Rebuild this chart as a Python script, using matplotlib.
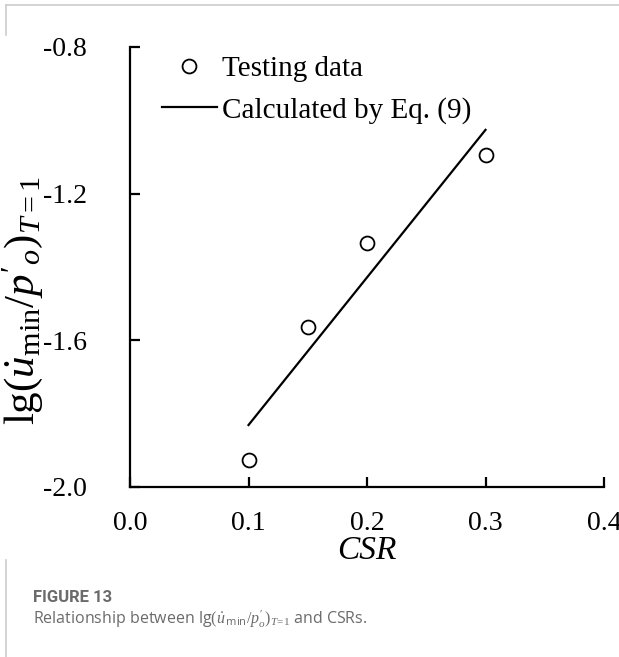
import matplotlib
matplotlib.use("Agg")
import matplotlib.pyplot as plt
from matplotlib.lines import Line2D

plt.rcParams["mathtext.fontset"] = "custom"
plt.rcParams["mathtext.rm"] = "Liberation Serif"
plt.rcParams["mathtext.it"] = "Liberation Serif:italic"
plt.rcParams["mathtext.sf"] = "Open Sans"
plt.rcParams["font.family"] = "Liberation Serif"

# Testing data
csr = [0.10, 0.15, 0.20, 0.30]
lg_rate = [-1.925, -1.563, -1.335, -1.095]

# Eq. (9) line endpoints
csr_fit = [0.10, 0.30]
lg_fit = [-1.831, -1.026]

x_ticks = [0.0, 0.1, 0.2, 0.3, 0.4]
y_ticks = [-2.0, -1.6, -1.2, -0.8]

W, H = 619, 657
fig = plt.figure(figsize=(W / 100, H / 100), dpi=100)
ax = fig.add_axes([130 / W, 1 - 487 / H, 474 / W, 440 / H])

ax.plot(csr_fit, lg_fit, color="black", lw=1.6)
ax.plot(csr, lg_rate, linestyle="none", marker="o", markersize=10,
        markerfacecolor="white", markeredgecolor="black", markeredgewidth=1.3)

ax.set_xlim(0.0, 0.4)
ax.set_ylim(-2.0, -0.8)
ax.set_xticks(x_ticks)
ax.set_yticks(y_ticks)
ax.set_xticklabels([f"{v:.1f}" for v in x_ticks])
ax.set_yticklabels([f"{v:.1f}" for v in y_ticks])
ax.tick_params(direction="in", length=7, width=1.6, labelsize=20)
ax.tick_params(axis="y", pad=31)
ax.tick_params(axis="x", pad=17)
for side in ("top", "right"):
    ax.spines[side].set_visible(False)
for side in ("left", "bottom"):
    ax.spines[side].set_linewidth(1.6)

ax.set_xlabel("CSR", fontsize=24, fontstyle="italic", labelpad=0)
ax.set_ylabel(r"$\mathrm{lg}(\dot{u}_{\mathrm{min}}/p'_{o})_{T=1}$", fontsize=31)
ax.yaxis.set_label_coords(45 / W, 1 - 301 / H, transform=fig.transFigure)

handles = [
    Line2D([], [], linestyle="none", marker="o", markersize=10,
           markerfacecolor="white", markeredgecolor="black", markeredgewidth=1.3),
    Line2D([], [], color="black", lw=1.6),
]
fig.legend(handles, ["Testing data", "Calculated by Eq. (9)"],
           loc="upper left", bbox_to_anchor=(162 / W, 1 - 56 / H), frameon=False,
           fontsize=21, handlelength=1.88, handletextpad=0.17, labelspacing=0.5,
           borderpad=0, borderaxespad=0)

# page frame lines
frame = dict(transform=fig.transFigure, color="#cccccc", lw=1.2)
fig.add_artist(Line2D([6 / W, 1.0], [1 - 5 / H, 1 - 5 / H], **frame))
fig.add_artist(Line2D([6 / W, 6 / W], [1 - 5 / H, 1 - 35 / H], **frame))
fig.add_artist(Line2D([6 / W, 6 / W], [1 - 560 / H, 0.0], **frame))

# caption
fig.text(33 / W, 1 - 597 / H, "FIGURE 13", fontsize=12, fontweight="bold",
         family="Roboto", color="#6b6b6b", va="center")
fig.text(33 / W, 1 - 619 / H,
         r"Relationship between $\mathsf{lg}(\dot{u}_{\,\mathsf{min}}/p_o^{\prime})_{T\!=\!1}$ and CSRs.",
         fontsize=11.5, family="Open Sans", color="#6b6b6b", va="center")

fig.savefig("out.png", dpi=100)
